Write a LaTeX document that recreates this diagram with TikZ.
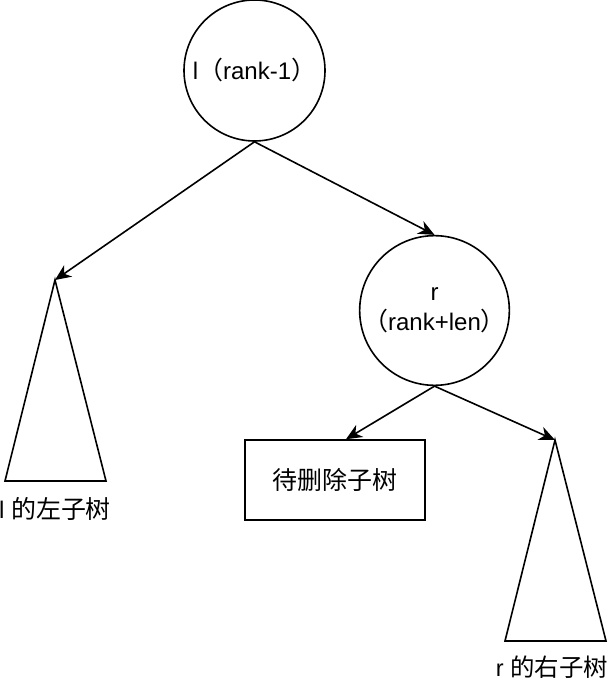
\documentclass[tikz,border=0pt]{standalone}
\usepackage{fontspec}
\setmainfont{Liberation Sans}
\newfontfamily\cjk[Scale=1.04]{Noto Sans CJK SC}
\newcommand\zh[1]{{\cjk #1}}
\usetikzlibrary{arrows.meta}
\begin{document}
\begin{tikzpicture}[x=1pt,y=-1pt,line width=1.6pt,
  every node/.style={font=\fontsize{24}{30}\selectfont},
  arr/.style={-{Stealth[length=16pt,width=14pt,inset=5pt]}},
  circ/.style={circle,draw,minimum size=141pt,inner sep=0pt,align=center},
  boxnode/.style={draw,minimum width=180pt,minimum height=80pt,inner sep=0pt},
  tri/.style={draw}]
\useasboundingbox (0,0) rectangle (610,684);
\node[circ] (l) at (254.5,70.5) {l\zh{（}rank-1\zh{）}};
\node[circ] (r) at (434.5,310.5) {r\\\zh{（}rank+len\zh{）}};
\node[boxnode] (box) at (335,480) {\zh{待删除子树}};
\coordinate (lt) at (55,280);
\coordinate (rt) at (555,440);
\draw[tri] (lt) -- (5,481) -- (106,481) -- cycle;
\draw[tri] (rt) -- (505,641) -- (606,641) -- cycle;
\node (ll) at (55,509) {l \zh{的左子树}};
\node[font=\fontsize{23.5}{28}\selectfont] (rl) at (552,667) {r \zh{的右子树}};
\draw[arr] (l.south) -- (lt);
\draw[arr] (l.south) -- (r.north);
\draw[arr] (r.south) -- ([xshift=11pt]box.north);
\draw[arr] (r.south) -- (rt);
\end{tikzpicture}
\end{document}
